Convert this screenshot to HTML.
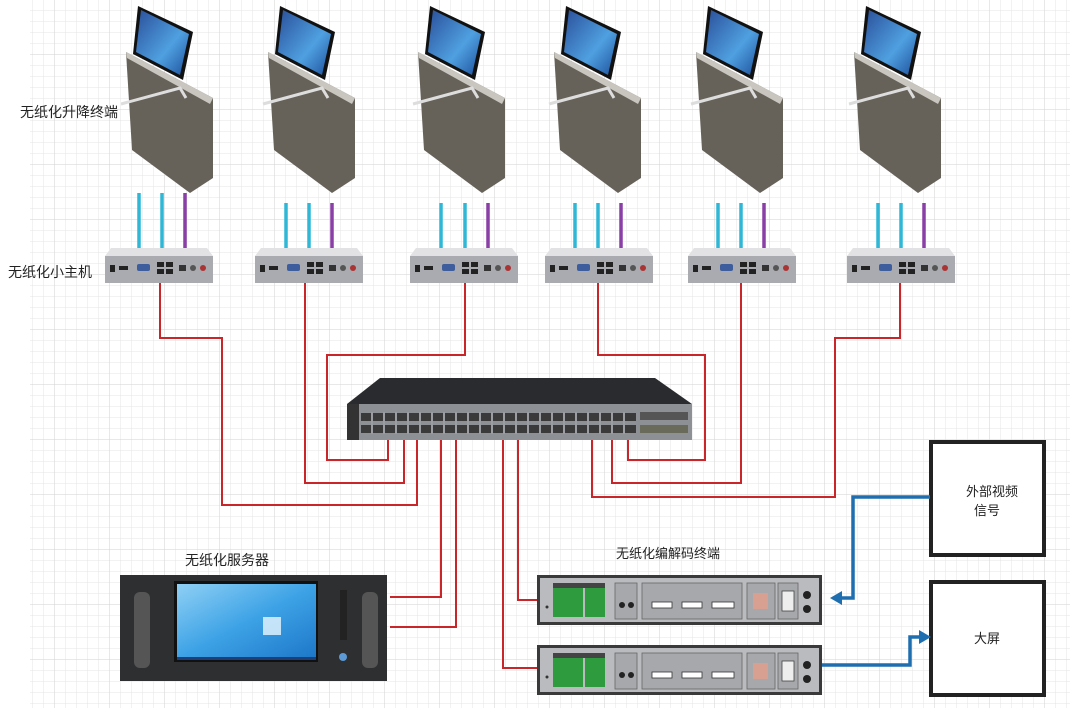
<!DOCTYPE html>
<html><head><meta charset="utf-8"><style>
html,body{margin:0;padding:0;background:#fff;width:1080px;height:718px;overflow:hidden}
svg{display:block}
text{font-family:"Liberation Sans","Noto Sans CJK SC",sans-serif;fill:#222}
</style></head><body>
<svg width="1080" height="718" viewBox="0 0 1080 718" xmlns="http://www.w3.org/2000/svg">
<defs>
<pattern id="g" width="11" height="11" patternUnits="userSpaceOnUse"><path d="M11 0V11M0 11H11" stroke="#e4e4e4" stroke-width="1" fill="none"/></pattern>
<pattern id="G" width="55" height="55" patternUnits="userSpaceOnUse"><path d="M55 0V55M0 55H55" stroke="#d2d2d2" stroke-width="1" fill="none"/></pattern>
<linearGradient id="scr" x1="0" y1="0" x2="1" y2="1"><stop offset="0" stop-color="#2a4f9a"/><stop offset="0.6" stop-color="#4fa0e0"/><stop offset="1" stop-color="#1d4f9a"/></linearGradient>
<linearGradient id="win" x1="0" y1="0" x2="1" y2="1"><stop offset="0" stop-color="#8fd0f5"/><stop offset="0.5" stop-color="#3ea3e6"/><stop offset="1" stop-color="#1d77c9"/></linearGradient>
<g id="term">
 <polygon points="126,52 213,98 213,178 190,193 132,150" fill="#66625a"/>
 <polygon points="126,52 213,98 210,104 127,58" fill="#c9c6bf"/>
 <polygon points="138,6 193,32 183,80 133,54" fill="#111"/>
 <polygon points="141,10 189,34 180,75 136,52" fill="url(#scr)"/>
 <path d="M121,104 L180,88 L186,98" stroke="#ddd" stroke-width="3" fill="none"/>
</g>
<g id="host">
 <polygon points="0,8 6,0 102,0 108,8" fill="#e2e2e4"/>
 <rect x="0" y="8" width="108" height="27" fill="#a9abb0"/>
 <rect x="5" y="17" width="5" height="7" fill="#222"/>
 <rect x="14" y="18" width="9" height="4" fill="#222"/>
 <rect x="32" y="16" width="13" height="7" rx="2" fill="#3d5d9c"/>
 <rect x="52" y="14" width="7" height="5" fill="#222"/><rect x="52" y="21" width="7" height="5" fill="#222"/>
 <rect x="61" y="14" width="7" height="5" fill="#222"/><rect x="61" y="21" width="7" height="5" fill="#222"/>
 <rect x="74" y="17" width="7" height="6" fill="#333"/>
 <circle cx="88" cy="20" r="3" fill="#555"/><circle cx="98" cy="20" r="3" fill="#a33"/>
</g>
<g id="codec">
 <rect x="0" y="0" width="285" height="50" fill="#3a3a3a"/>
 <rect x="3" y="3" width="279" height="44" fill="#b9bbbe"/>
 <rect x="16" y="10" width="30" height="32" fill="#2e9b3e"/><rect x="48" y="10" width="20" height="32" fill="#2e9b3e"/>
 <rect x="16" y="8" width="52" height="5" fill="#444"/>
 <circle cx="10" cy="32" r="1.5" fill="#333"/>
 <rect x="78" y="8" width="22" height="36" fill="#a6a8ab" stroke="#666" stroke-width=".8"/>
 <circle cx="85" cy="30" r="3" fill="#222"/><circle cx="94" cy="30" r="3" fill="#222"/>
 <rect x="105" y="8" width="100" height="36" fill="#a6a8ab" stroke="#666" stroke-width=".8"/>
 <rect x="115" y="27" width="20" height="6" fill="#fff" stroke="#333" stroke-width=".8"/>
 <rect x="145" y="27" width="20" height="6" fill="#fff" stroke="#333" stroke-width=".8"/>
 <rect x="175" y="27" width="22" height="6" fill="#fff" stroke="#333" stroke-width=".8"/>
 <rect x="210" y="8" width="28" height="36" fill="#a6a8ab" stroke="#666" stroke-width=".8"/>
 <rect x="216" y="18" width="15" height="16" fill="#d8a090"/>
 <rect x="241" y="8" width="20" height="36" fill="#a6a8ab" stroke="#666" stroke-width=".8"/>
 <rect x="245" y="16" width="12" height="20" fill="#eee" stroke="#444" stroke-width=".8"/>
 <circle cx="270" cy="20" r="4" fill="#222"/><circle cx="270" cy="34" r="4" fill="#222"/>
</g>
</defs>
<rect width="1080" height="718" fill="#fff"/>
<rect x="30" y="0" width="1040" height="708" fill="url(#g)"/>
<rect x="30" y="0" width="1040" height="708" fill="url(#G)"/>

<use href="#term" x="0"/><use href="#term" x="142"/><use href="#term" x="292"/>
<use href="#term" x="428"/><use href="#term" x="570"/><use href="#term" x="728"/>

<g stroke-width="3.5">
<g stroke="#2fb7d6">
<path d="M139 193V248M162 193V248M286 203V248M309 203V248M441 203V248M465 203V248M575 203V248M598 203V248M718 203V248M741 203V248M878 203V248M901 203V248"/>
</g>
<g stroke="#8a3fa6">
<path d="M185 193V248M332 203V248M488 203V248M621 203V248M764 203V248M924 203V248"/>
</g>
</g>

<use href="#host" x="105" y="248"/><use href="#host" x="255" y="248"/><use href="#host" x="410" y="248"/>
<use href="#host" x="545" y="248"/><use href="#host" x="688" y="248"/><use href="#host" x="847" y="248"/>

<g stroke="#c8262b" stroke-width="2" fill="none">
<path d="M160 283V338H222V505H417V440"/>
<path d="M305 283V483H404V440"/>
<path d="M465 283V355H327V460H388V440"/>
<path d="M598 283V355H705V460H628V440"/>
<path d="M741 283V483H612V440"/>
<path d="M900 283V338H835V497H592V440"/>
<path d="M441 440V597H390"/>
<path d="M456 440V627H390"/>
<path d="M503 440V668H540"/>
<path d="M518 440V600H540"/>
</g>

<polygon points="380,378 655,378 692,404 347,404" fill="#2a2b2e"/>
<rect x="347" y="404" width="345" height="36" fill="#8d9095"/>
<rect x="347" y="404" width="12" height="36" fill="#333"/>
<rect x="361" y="413" width="275" height="8" fill="#3a3a3a"/>
<rect x="361" y="425" width="275" height="8" fill="#3a3a3a"/>
<g stroke="#9a9da2" stroke-width="2">
<path d="M372 412V434M384 412V434M396 412V434M408 412V434M420 412V434M432 412V434M444 412V434M456 412V434M468 412V434M480 412V434M492 412V434M504 412V434M516 412V434M528 412V434M540 412V434M552 412V434M564 412V434M576 412V434M588 412V434M600 412V434M612 412V434M624 412V434"/>
</g>
<rect x="640" y="412" width="48" height="8" fill="#555"/>
<rect x="640" y="425" width="48" height="8" fill="#6a6a5a"/>

<rect x="120" y="575" width="267" height="106" fill="#2e2f31"/>
<rect x="134" y="592" width="16" height="76" rx="6" fill="#555"/>
<rect x="362" y="592" width="16" height="76" rx="6" fill="#555"/>
<rect x="174" y="581" width="144" height="81" fill="#111"/>
<rect x="177" y="584" width="139" height="74" fill="url(#win)"/>
<rect x="177" y="657" width="139" height="3" fill="#1a3f7a"/>
<rect x="263" y="617" width="18" height="18" fill="#e8f6ff" opacity=".8"/>
<rect x="340" y="590" width="7" height="50" fill="#222"/>
<circle cx="343" cy="657" r="4" fill="#5c9ad6"/>

<use href="#codec" x="537" y="575"/>
<use href="#codec" x="537" y="645"/>

<rect x="931" y="442" width="113" height="113" fill="#fff" stroke="#222" stroke-width="4"/>
<rect x="931" y="582" width="113" height="113" fill="#fff" stroke="#222" stroke-width="4"/>

<g stroke="#1f6fb0" stroke-width="3.5" fill="none">
<path d="M930 497H853V598H838"/>
<path d="M822 665H910V637H922"/>
</g>
<polygon points="830,598 842,591 842,605" fill="#1f6fb0"/>
<polygon points="931,637 919,630 919,644" fill="#1f6fb0"/>

<text x="20" y="117" font-size="14">无纸化升降终端</text>
<text x="8" y="277" font-size="14">无纸化小主机</text>
<text x="185" y="565" font-size="14">无纸化服务器</text>
<text x="616" y="558" font-size="13">无纸化编解码终端</text>
<text x="966" y="496" font-size="13">外部视频</text>
<text x="974" y="515" font-size="13">信号</text>
<text x="974" y="643" font-size="13">大屏</text>
</svg>
</body></html>
